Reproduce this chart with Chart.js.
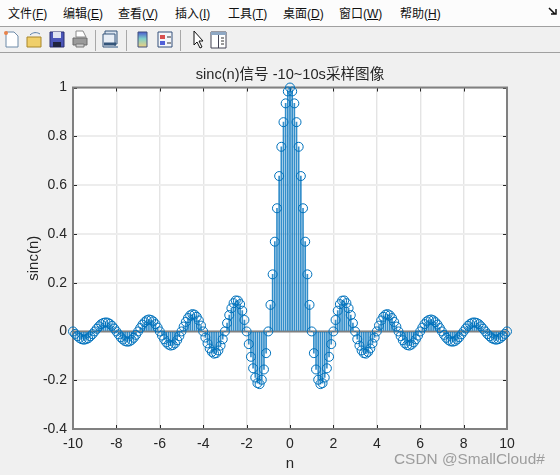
<!DOCTYPE html>
<html>
<head>
<meta charset="utf-8">
<style>
  html, body { margin: 0; padding: 0; background: #f0f0f0; width: 560px; height: 475px; overflow: hidden; }
  body { position: relative; font-family: "Liberation Sans", "Noto Sans CJK SC", sans-serif; }
  #menu { position: absolute; left: 0; top: 0; width: 560px; height: 26px; background: #fcfcfc; font-size: 12px; color: #111; }
  #menu span { position: absolute; top: 4px; white-space: nowrap; }
  #menu svg { position: absolute; left: 548px; top: 7px; }
  #bar { position: absolute; left: 0; top: 26px; width: 560px; height: 27px; background: #f0f0f0;
         border-top: 1px solid #a0a0a0; border-bottom: 1px solid #a0a0a0; box-sizing: border-box; }
  #bar svg { position: absolute; left: 0; top: 0; }
  canvas { position: absolute; left: 0; top: 53px; }
  #mark { position: absolute; left: 394px; top: 450px; font-size: 15.4px; color: rgba(130,130,130,.75); white-space: nowrap; }
</style>
</head>
<body>
<div id="menu">
  <svg width="10" height="10" viewBox="0 0 10 10"><path d="M1 1l6 6M3 7h5V2" fill="none" stroke="#111" stroke-width="1.5"/></svg>
</div>
<div id="bar">
  <svg width="560" height="26" viewBox="0 0 560 26">
    <!-- nuevo -->
    <path d="M6 5h8l4 4v11H6z" fill="#fff" stroke="#6d8aa8"/><circle cx="6" cy="6" r="2" fill="#e8824a"/>
    <!-- abrir -->
    <path d="M27 10h14v10H27z" fill="#f0cf6a" stroke="#a8862a"/><path d="M30 8c3-3 7-3 10-1" fill="none" stroke="#5a7fa8"/>
    <!-- guardar -->
    <path d="M50 5h14v15H50z" fill="#4a55b8" stroke="#2a2f70"/><path d="M53 5h8v6h-8z" fill="#dfe3f2"/><path d="M53 15h8v5h-8z" fill="#20243f"/>
    <!-- imprimir -->
    <path d="M76 4h7l3 6h-10z" fill="#fff" stroke="#8a8a8a"/><path d="M73 11h14v7H73z" fill="#9a9a9a" stroke="#6a6a6a"/><path d="M76 17h8v3h-8z" fill="#d0d0d0" stroke="#777"/>
    <path d="M95.500 3v21" stroke="#a8a8a8"/>
    <!-- vincular -->
    <path d="M105 4h12v13h-12z" fill="#d8e2ee" stroke="#34557a"/><path d="M103 7h12v13h-12z" fill="#e8eef6" stroke="#34557a"/>
    <path d="M104 17h12" stroke="#34557a" stroke-width="3" /><path d="M108 20h10" stroke="#8aa0b8" stroke-width="2"/>
    <path d="M126.500 3v21" stroke="#a8a8a8"/>
    <!-- barra de color -->
    <defs><linearGradient id="cb" x1="0" y1="0" x2="0" y2="1">
      <stop offset="0" stop-color="#4a5ad0"/><stop offset=".45" stop-color="#7fd0c8"/><stop offset="1" stop-color="#f0d080"/>
    </linearGradient></defs>
    <path d="M138 5h9v15h-9z" fill="url(#cb)" stroke="#40507a"/>
    <!-- leyenda -->
    <path d="M158 5h14v15h-14z" fill="#f4f6fa" stroke="#34507a"/><path d="M160 8h5v4h-5z" fill="#d85050"/><path d="M160 14h5v4h-5z" fill="#5060d8"/><path d="M167 10h4M167 16h4" stroke="#333"/>
    <path d="M180.500 3v21" stroke="#a8a8a8"/>
    <!-- cursor -->
    <path d="M194 4v14l3-3 3 6 2-1-3-6h4z" fill="#fff" stroke="#111"/>
    <!-- panel -->
    <path d="M211 5h15v16h-15z" fill="#fff" stroke="#445"/><path d="M211 5h15v3h-15z" fill="#8fa8c4"/><path d="M218.500 8v13" stroke="#445"/><path d="M221 11h3M221 14h3M221 17h3" stroke="#333"/>
  </svg>
</div>
<canvas id="grafico" width="560" height="422"></canvas>
<div id="mark">CSDN @SmallCloud#</div>

<script src="https://cdn.jsdelivr.net/npm/chart.js@4"></script>
<script>
// Menú superior
const menuItems = [['文件','F',8], ['编辑','E',63], ['查看','V',118], ['插入','I',175], ['工具','T',228], ['桌面','D',283], ['窗口','W',339], ['帮助','H',400]];
const menu = document.getElementById('menu');
menuItems.forEach(m => {
    const s = document.createElement('span');
    s.style.left = m[2] + 'px';
    s.innerHTML = m[0] + '(<u>' + m[1] + '</u>)';
    menu.appendChild(s);
});

// Datos
const nValues = [
    -10, -9.9, -9.8, -9.7, -9.6, -9.5, -9.4, -9.3, -9.2, -9.1,
    -9, -8.9, -8.8, -8.7, -8.6, -8.5, -8.4, -8.3, -8.2, -8.1,
    -8, -7.9, -7.8, -7.7, -7.6, -7.5, -7.4, -7.3, -7.2, -7.1,
    -7, -6.9, -6.8, -6.7, -6.6, -6.5, -6.4, -6.3, -6.2, -6.1,
    -6, -5.9, -5.8, -5.7, -5.6, -5.5, -5.4, -5.3, -5.2, -5.1,
    -5, -4.9, -4.8, -4.7, -4.6, -4.5, -4.4, -4.3, -4.2, -4.1,
    -4, -3.9, -3.8, -3.7, -3.6, -3.5, -3.4, -3.3, -3.2, -3.1,
    -3, -2.9, -2.8, -2.7, -2.6, -2.5, -2.4, -2.3, -2.2, -2.1,
    -2, -1.9, -1.8, -1.7, -1.6, -1.5, -1.4, -1.3, -1.2, -1.1,
    -1, -0.9, -0.8, -0.7, -0.6, -0.5, -0.4, -0.3, -0.2, -0.1,
    0, 0.1, 0.2, 0.3, 0.4, 0.5, 0.6, 0.7, 0.8, 0.9,
    1, 1.1, 1.2, 1.3, 1.4, 1.5, 1.6, 1.7, 1.8, 1.9,
    2, 2.1, 2.2, 2.3, 2.4, 2.5, 2.6, 2.7, 2.8, 2.9,
    3, 3.1, 3.2, 3.3, 3.4, 3.5, 3.6, 3.7, 3.8, 3.9,
    4, 4.1, 4.2, 4.3, 4.4, 4.5, 4.6, 4.7, 4.8, 4.9,
    5, 5.1, 5.2, 5.3, 5.4, 5.5, 5.6, 5.7, 5.8, 5.9,
    6, 6.1, 6.2, 6.3, 6.4, 6.5, 6.6, 6.7, 6.8, 6.9,
    7, 7.1, 7.2, 7.3, 7.4, 7.5, 7.6, 7.7, 7.8, 7.9,
    8, 8.1, 8.2, 8.3, 8.4, 8.5, 8.6, 8.7, 8.8, 8.9,
    9, 9.1, 9.2, 9.3, 9.4, 9.5, 9.6, 9.7, 9.8, 9.9,
    10
];
const sincValues = [
    0, -0.010, -0.019, -0.027, -0.032, -0.034, -0.032, -0.028, -0.020, -0.011,
    0, 0.011, 0.021, 0.030, 0.035, 0.037, 0.036, 0.031, 0.023, 0.012,
    0, -0.012, -0.024, -0.033, -0.040, -0.042, -0.041, -0.035, -0.026, -0.014,
    0, 0.014, 0.028, 0.038, 0.046, 0.049, 0.047, 0.041, 0.030, 0.016,
    0, -0.017, -0.032, -0.045, -0.054, -0.058, -0.056, -0.049, -0.036, -0.019,
    0, 0.020, 0.039, 0.055, 0.066, 0.071, 0.069, 0.060, 0.045, 0.024,
    0, -0.025, -0.049, -0.070, -0.084, -0.091, -0.089, -0.078, -0.058, -0.032,
    0, 0.034, 0.067, 0.095, 0.116, 0.127, 0.126, 0.112, 0.085, 0.047,
    0, -0.052, -0.104, -0.151, -0.189, -0.212, -0.216, -0.198, -0.156, -0.089,
    0, 0.109, 0.234, 0.368, 0.505, 0.637, 0.757, 0.858, 0.935, 0.984,
    1, 0.984, 0.935, 0.858, 0.757, 0.637, 0.505, 0.368, 0.234, 0.109,
    0, -0.089, -0.156, -0.198, -0.216, -0.212, -0.189, -0.151, -0.104, -0.052,
    0, 0.047, 0.085, 0.112, 0.126, 0.127, 0.116, 0.095, 0.067, 0.034,
    0, -0.032, -0.058, -0.078, -0.089, -0.091, -0.084, -0.070, -0.049, -0.025,
    0, 0.024, 0.045, 0.060, 0.069, 0.071, 0.066, 0.055, 0.039, 0.020,
    0, -0.019, -0.036, -0.049, -0.056, -0.058, -0.054, -0.045, -0.032, -0.017,
    0, 0.016, 0.030, 0.041, 0.047, 0.049, 0.046, 0.038, 0.028, 0.014,
    0, -0.014, -0.026, -0.035, -0.041, -0.042, -0.040, -0.033, -0.024, -0.012,
    0, 0.012, 0.023, 0.031, 0.036, 0.037, 0.035, 0.030, 0.021, 0.011,
    0, -0.011, -0.020, -0.028, -0.032, -0.034, -0.032, -0.027, -0.019, -0.010,
    0
];
const xTicks = [-10, -8, -6, -4, -2, 0, 2, 4, 6, 8, 10];
const yTicks = [-0.4, -0.2, 0, 0.2, 0.4, 0.6, 0.8, 1];

const azul = '#0072bd';
const puntos = nValues.map((n, i) => ({ x: n, y: sincValues[i] }));

// Fondo blanco, caja, marcas interiores y línea base estilo MATLAB
const cajaPlugin = {
    id: 'caja',
    beforeDraw(chart) {
        const { ctx, chartArea: a } = chart;
        ctx.save();
        ctx.fillStyle = '#fff';
        ctx.fillRect(a.left, a.top, a.right - a.left, a.bottom - a.top);
        ctx.restore();
    },
    beforeDatasetsDraw(chart) {
        const { ctx, chartArea: a, scales: { x, y } } = chart;
        ctx.save();
        ctx.strokeStyle = '#262626';
        ctx.lineWidth = 1;
        ctx.beginPath();
        xTicks.forEach(v => {
            const px = Math.round(x.getPixelForValue(v)) + 0.5;
            ctx.moveTo(px, a.top); ctx.lineTo(px, a.top + 4);
            ctx.moveTo(px, a.bottom); ctx.lineTo(px, a.bottom - 4);
        });
        yTicks.forEach(v => {
            const py = Math.round(y.getPixelForValue(v)) + 0.5;
            ctx.moveTo(a.left, py); ctx.lineTo(a.left + 4, py);
            ctx.moveTo(a.right, py); ctx.lineTo(a.right - 4, py);
        });
        ctx.stroke();
        ctx.strokeStyle = '#808080';
        ctx.lineWidth = 2;
        ctx.strokeRect(a.left, a.top, a.right - a.left, a.bottom - a.top);
        ctx.beginPath();
        ctx.moveTo(a.left, y.getPixelForValue(0));
        ctx.lineTo(a.right, y.getPixelForValue(0));
        ctx.stroke();
        ctx.restore();
    }
};

const grafico = new Chart(document.getElementById('grafico').getContext('2d'), {
    data: {
        datasets: [{
            type: 'scatter',
            label: 'sinc(n)',
            data: puntos,
            showLine: false,
            clip: false,
            borderColor: azul,
            backgroundColor: 'rgba(0,0,0,0)',
            borderWidth: 1,
            pointRadius: 4.5,
            pointBorderWidth: 1,
            order: 1
        }, {
            type: 'bar',
            label: 'tallos',
            data: puntos,
            backgroundColor: 'rgba(0,114,189,0.8)',
            barThickness: 1,
            order: 2
        }]
    },
    options: {
        responsive: false,
        animation: false,
        layout: { padding: { left: 25, right: 53, top: 0, bottom: 2 } },
        plugins: {
            legend: { display: false },
            tooltip: { enabled: false },
            title: {
                display: true,
                fullSize: false,
                text: 'sinc(n)信号 -10~10s采样图像',
                color: '#262626',
                font: { family: '"Liberation Sans", "Noto Sans CJK SC"', size: 14.6, weight: 'normal' },
                padding: { top: 13, bottom: 4 }
            }
        },
        scales: {
            x: {
                type: 'linear',
                min: -10,
                max: 10,
                offset: false,
                afterBuildTicks: s => { s.ticks = xTicks.map(v => ({ value: v })); },
                afterFit: s => { s.height = 44; },
                grid: { color: '#e4e4e4', lineWidth: 1.4, drawTicks: false, offset: false },
                border: { display: false },
                ticks: { color: '#262626', font: { family: 'Liberation Sans', size: 14 }, padding: 7, maxRotation: 0, autoSkip: false },
                title: { display: true, text: 'n', color: '#262626', font: { family: 'Liberation Sans', size: 15 }, padding: { top: 0, bottom: 0 } }
            },
            y: {
                min: -0.4,
                max: 1,
                afterBuildTicks: s => { s.ticks = yTicks.map(v => ({ value: v })); },
                afterFit: s => { s.width = 48; },
                grid: { color: '#ededed', lineWidth: 2, drawTicks: false },
                border: { display: false },
                ticks: { color: '#262626', font: { family: 'Liberation Sans', size: 14 }, padding: 6, autoSkip: false,
                    callback: v => String(Math.round(v * 10) / 10) },
                title: { display: true, text: 'sinc(n)', color: '#262626', font: { family: 'Liberation Sans', size: 15 }, padding: 0 }
            }
        }
    },
    plugins: [cajaPlugin]
});
</script>
</body>
</html>
